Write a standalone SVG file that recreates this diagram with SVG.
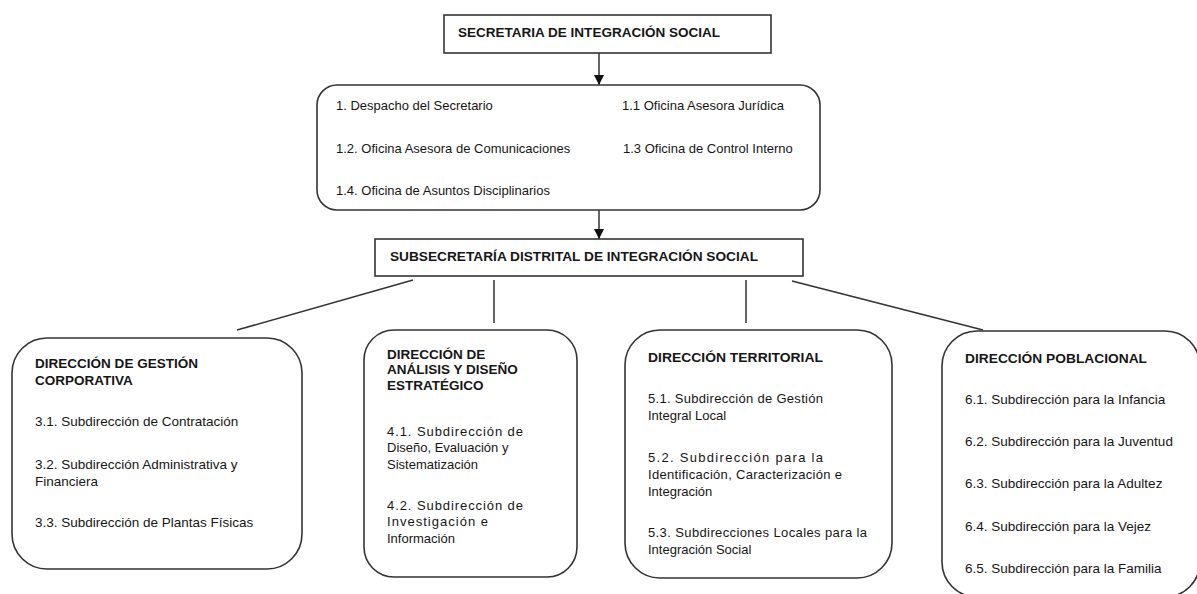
<svg xmlns="http://www.w3.org/2000/svg" width="1197" height="594" viewBox="0 0 1197 594">
<defs>
<marker id="arr" markerWidth="10" markerHeight="10" refX="10" refY="5" orient="auto" markerUnits="userSpaceOnUse">
<path d="M0,0 L10,5 L0,10 Z" fill="#111"/>
</marker>
<style>
.box{fill:#fff;stroke:#333;stroke-width:1.6}
.con{stroke:#333;stroke-width:1.5;fill:none}
text{font-family:"Liberation Sans",Arial,sans-serif;fill:#161616}
.h{font-weight:bold;font-size:13.5px}
.b{font-size:13px}
.b2{font-size:13.5px}
</style>
</defs>
<rect width="1197" height="594" fill="#fff"/>
<g id="connectors">
<line class="con" x1="599" y1="53" x2="599" y2="85" marker-end="url(#arr)"/>
<line class="con" x1="599" y1="210" x2="599" y2="239" marker-end="url(#arr)"/>
<line class="con" x1="413" y1="280" x2="237" y2="330"/>
<line class="con" x1="494" y1="280" x2="494" y2="323"/>
<line class="con" x1="746" y1="280" x2="746" y2="323"/>
<line class="con" x1="792" y1="281" x2="983" y2="330"/>
</g>
<g id="secretaria">
<rect class="box" x="444" y="15" width="327" height="38"/>
<text class="h" x="458" y="37" textLength="262" lengthAdjust="spacingAndGlyphs">SECRETARIA DE INTEGRACIÓN SOCIAL</text>
</g>
<g id="despacho">
<rect class="box" x="317" y="85" width="503" height="125" rx="20" ry="20"/>
<text class="b" x="336" y="110">1. Despacho del Secretario</text>
<text class="b" x="622" y="110">1.1 Oficina Asesora Jurídica</text>
<text class="b" x="336" y="153">1.2. Oficina Asesora de Comunicaciones</text>
<text class="b" x="623" y="153">1.3 Oficina de Control Interno</text>
<text class="b" x="336" y="195">1.4. Oficina de Asuntos Disciplinarios</text>
</g>
<g id="subsecretaria">
<rect class="box" x="375" y="239" width="428" height="37"/>
<text class="h" x="390" y="261" textLength="368" lengthAdjust="spacingAndGlyphs">SUBSECRETARÍA DISTRITAL DE INTEGRACIÓN SOCIAL</text>
</g>
<g id="gestion-corporativa">
<rect class="box" x="12" y="338" width="290" height="231" rx="35" ry="35"/>
<text class="h" x="35" y="368" textLength="163" lengthAdjust="spacingAndGlyphs">DIRECCIÓN DE GESTIÓN</text>
<text class="h" x="35" y="385">CORPORATIVA</text>
<text class="b2" x="35" y="426">3.1. Subdirección de Contratación</text>
<text class="b2" x="35" y="469">3.2. Subdirección Administrativa y</text>
<text class="b2" x="35" y="486">Financiera</text>
<text class="b2" x="35" y="527">3.3. Subdirección de Plantas Físicas</text>
</g>
<g id="analisis-diseno">
<rect class="box" x="364" y="330" width="213" height="247" rx="30" ry="30"/>
<text class="h" x="387" y="359">DIRECCIÓN DE</text>
<text class="h" x="387" y="374">ANÁLISIS Y DISEÑO</text>
<text class="h" x="387" y="390">ESTRATÉGICO</text>
<text class="b" x="387" y="436" textLength="136" lengthAdjust="spacing">4.1. Subdirección de</text>
<text class="b" x="387" y="452">Diseño, Evaluación y</text>
<text class="b" x="387" y="469">Sistematización</text>
<text class="b" x="387" y="510" textLength="136" lengthAdjust="spacing">4.2. Subdirección de</text>
<text class="b" x="387" y="526" textLength="101" lengthAdjust="spacing">Investigación e</text>
<text class="b" x="387" y="543">Información</text>
</g>
<g id="territorial">
<rect class="box" x="625" y="330" width="267" height="248" rx="35" ry="35"/>
<text class="h" x="648" y="362" textLength="175" lengthAdjust="spacingAndGlyphs">DIRECCIÓN TERRITORIAL</text>
<text class="b" x="648" y="403" textLength="175" lengthAdjust="spacing">5.1. Subdirección de Gestión</text>
<text class="b" x="648" y="420">Integral Local</text>
<text class="b" x="648" y="462" textLength="175" lengthAdjust="spacing">5.2. Subdirección para la</text>
<text class="b" x="648" y="479" textLength="194" lengthAdjust="spacing">Identificación, Caracterización e</text>
<text class="b" x="648" y="496">Integración</text>
<text class="b" x="648" y="537" textLength="219" lengthAdjust="spacing">5.3. Subdirecciones Locales para la</text>
<text class="b" x="648" y="554">Integración Social</text>
</g>
<g id="poblacional">
<rect class="box" x="942" y="331" width="258" height="266" rx="35" ry="35"/>
<text class="h" x="965" y="363" textLength="182" lengthAdjust="spacingAndGlyphs">DIRECCIÓN POBLACIONAL</text>
<text class="b2" x="965" y="404">6.1. Subdirección para la Infancia</text>
<text class="b2" x="965" y="446">6.2. Subdirección para la Juventud</text>
<text class="b2" x="965" y="488">6.3. Subdirección para la Adultez</text>
<text class="b2" x="965" y="531">6.4. Subdirección para la Vejez</text>
<text class="b2" x="965" y="573">6.5. Subdirección para la Familia</text>
</g>
</svg>
